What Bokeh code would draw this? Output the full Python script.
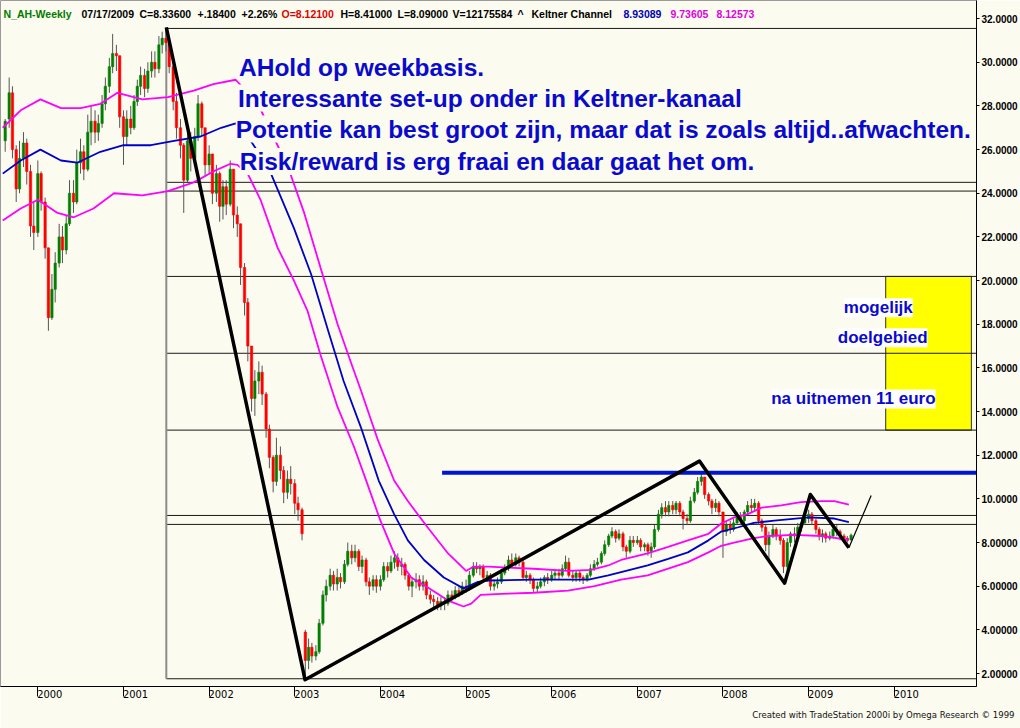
import numpy as np
import pandas as pd
from bokeh.plotting import figure
from bokeh.models import (ColumnDataSource, FixedTicker, PrintfTickFormatter,
                          Label, Range1d, Title)
from bokeh.embed import file_html
from bokeh.resources import INLINE

# ---------------- data (semi-monthly OHLC) ----------------
start_date = "1999-08-15"

opens = [
    26.4,
    27.4, 28.6, 26.0, 24.2, 25.6, 26.3, 25.0, 22.5,
    22.2, 24.9, 23.6, 21.5, 18.3, 19.6, 20.8, 22.0, 21.4, 22.6, 24.0, 23.6,
    25.4, 25.9, 25.1, 26.8, 27.3, 26.8, 27.2, 28.1, 28.9, 29.8, 30.4, 30.3,
    27.5, 26.6, 27.4, 27.0, 28.2, 28.9, 29.4, 28.8, 29.6, 30.0, 29.7, 30.8,
    31.1, 30.9, 29.8, 28.2, 27.0, 26.2, 24.6, 26.4, 25.6, 26.6, 28.1, 27.0,
    25.3, 25.8, 24.0, 24.9, 23.4, 24.3, 23.5, 25.1, 23.0, 22.6, 20.6, 19.0,
    17.0, 14.6, 15.4, 15.8, 14.8, 13.2, 11.9, 10.8, 12.0, 11.3, 10.3, 10.9,
    10.7, 9.8, 9.5, 3.9, 2.6, 3.2, 2.8, 3.0, 4.3, 5.6, 6.0, 6.5,
    6.1, 6.4, 6.2, 7.0, 7.6, 7.3, 7.6, 6.9, 7.2, 6.2, 6.0, 6.3,
    6.0, 6.3, 6.9, 6.7, 7.1, 7.3, 6.9, 7.0, 6.5, 6.0, 6.2, 6.3,
    6.0, 6.2, 5.6, 5.4, 5.3, 5.1, 5.3, 5.2, 5.6, 5.5, 5.8, 5.7,
    6.0, 5.9, 6.5, 6.9, 6.8, 6.9, 6.4, 6.5, 6.0, 6.1, 6.2, 6.6,
    6.8, 7.2, 7.0, 7.3, 7.1, 6.4, 6.5, 6.3, 5.9, 6.0, 6.2, 6.4,
    6.3, 6.5, 6.6, 6.5, 6.8, 7.1, 6.5, 6.4, 6.6, 6.4, 6.3, 6.5,
    6.8, 7.0, 7.1, 7.5, 7.9, 8.3, 8.5, 8.2, 8.4, 7.8, 7.6, 8.1,
    8.0, 8.1, 7.8, 7.9, 7.6, 7.8, 8.6, 9.3, 9.6, 9.4, 9.7, 9.5,
    9.8, 9.4, 9.1, 9.0, 9.9, 10.3, 10.8, 11.0, 10.2, 9.9, 9.6, 9.8,
    9.4, 8.5, 8.8, 8.6, 8.9, 9.2, 9.0, 9.4, 9.7, 9.6, 9.8, 9.0,
    8.7, 7.9, 8.3, 8.6, 8.3, 8.1, 6.9, 8.0, 8.4, 8.3, 8.7, 8.9,
    9.1, 9.3, 9.0, 8.6, 8.3, 8.4, 8.2, 8.3, 8.6, 8.5, 8.3, 8.2,
    8.121]

highs = [
    27.4,
    29.3, 28.9, 26.2, 26.4, 26.8, 26.5, 25.3, 23.6,
    25.5, 25.0, 23.8, 21.5, 20.3, 21.3, 22.6, 22.5, 23.0, 24.6, 24.6, 26.0,
    26.5, 26.2, 27.6, 28.0, 27.8, 27.6, 28.5, 29.3, 30.2, 31.3, 30.8, 30.3,
    27.8, 27.8, 28.0, 28.5, 29.2, 29.8, 29.7, 30.0, 30.5, 30.5, 31.2, 31.4,
    31.6, 31.0, 29.9, 28.6, 27.4, 26.3, 27.0, 26.8, 27.0, 28.5, 28.2, 27.0,
    26.2, 25.8, 25.3, 25.0, 24.6, 24.6, 25.5, 25.1, 23.4, 22.6, 20.8, 19.2,
    17.0, 15.9, 16.3, 16.1, 14.9, 13.4, 12.0, 12.8, 12.4, 11.5, 11.3, 11.5,
    10.9, 10.1, 9.6, 4.0, 3.6, 3.4, 3.3, 4.5, 5.8, 6.3, 6.8, 6.7,
    6.8, 6.6, 7.2, 8.0, 7.9, 7.9, 7.7, 7.4, 7.3, 6.4, 6.5, 6.5,
    6.5, 7.1, 7.1, 7.4, 7.6, 7.5, 7.3, 7.1, 6.6, 6.4, 6.6, 6.5,
    6.5, 6.3, 5.8, 5.6, 5.5, 5.5, 5.5, 5.8, 5.8, 6.0, 6.0, 6.2,
    6.3, 6.7, 7.1, 7.1, 7.0, 7.0, 6.7, 6.6, 6.3, 6.4, 6.8, 7.0,
    7.4, 7.5, 7.5, 7.4, 7.2, 6.7, 6.6, 6.4, 6.2, 6.4, 6.5, 6.6,
    6.7, 6.8, 6.8, 7.0, 7.4, 7.3, 6.7, 6.7, 6.7, 6.5, 6.6, 7.0,
    7.2, 7.3, 7.6, 8.1, 8.4, 8.7, 8.6, 8.6, 8.5, 7.9, 8.3, 8.3,
    8.3, 8.2, 8.0, 8.0, 8.0, 8.8, 9.5, 9.8, 9.9, 9.9, 9.9, 9.9,
    9.9, 9.5, 9.3, 10.1, 10.5, 11.0, 11.2, 11.0, 10.3, 10.0, 10.0, 9.9,
    9.4, 9.0, 9.0, 9.1, 9.4, 9.4, 9.5, 9.9, 10.0, 10.0, 9.9, 9.1,
    8.8, 8.5, 8.8, 8.7, 8.6, 8.2, 8.2, 8.5, 8.7, 8.9, 9.1, 9.3,
    9.5, 9.4, 9.1, 8.7, 8.6, 8.5, 8.5, 8.8, 8.8, 8.6, 8.4, 8.3,
    8.41]

lows = [
    25.9,
    27.0, 25.6, 23.6, 24.0, 25.2, 24.4, 22.0, 21.4,
    22.0, 23.2, 21.0, 17.7, 18.2, 19.0, 20.6, 20.8, 21.2, 22.5, 23.1, 23.5,
    24.9, 24.6, 25.0, 26.2, 26.3, 26.4, 27.0, 27.8, 28.6, 29.5, 29.6, 27.0,
    25.3, 26.2, 26.7, 26.9, 28.0, 28.5, 28.4, 28.6, 29.3, 29.3, 29.5, 30.4,
    30.5, 29.5, 27.8, 26.5, 25.6, 23.1, 24.5, 25.0, 25.3, 26.4, 26.6, 24.8,
    24.9, 23.5, 23.6, 22.7, 22.8, 23.0, 23.4, 22.4, 22.0, 19.8, 18.4, 16.3,
    14.0, 13.8, 14.8, 14.3, 12.8, 11.4, 10.3, 10.6, 10.9, 9.8, 10.0, 10.2,
    9.3, 9.0, 8.1, 1.8, 2.2, 2.5, 2.6, 2.9, 4.2, 5.3, 5.8, 5.8,
    5.8, 5.9, 6.1, 6.9, 7.0, 7.1, 6.7, 6.6, 6.0, 5.6, 5.8, 5.7,
    5.8, 6.2, 6.4, 6.6, 6.8, 6.7, 6.5, 6.3, 5.8, 5.5, 5.9, 5.8,
    5.8, 5.4, 5.2, 5.0, 4.9, 4.9, 4.9, 5.1, 5.3, 5.4, 5.5, 5.6,
    5.7, 5.8, 6.4, 6.6, 6.5, 6.2, 6.2, 5.8, 5.8, 5.9, 6.1, 6.5,
    6.7, 6.9, 6.9, 6.9, 6.3, 6.2, 6.1, 5.7, 5.7, 5.9, 6.0, 6.1,
    6.2, 6.3, 6.3, 6.4, 6.7, 6.4, 6.2, 6.2, 6.2, 6.1, 6.2, 6.4,
    6.7, 6.9, 7.0, 7.4, 7.8, 8.2, 8.0, 8.1, 7.6, 7.3, 7.5, 7.8,
    7.9, 7.6, 7.6, 7.4, 7.3, 7.7, 8.5, 9.1, 9.2, 9.2, 9.3, 9.3,
    9.2, 8.6, 8.8, 8.9, 9.8, 10.2, 10.6, 10.0, 9.7, 9.3, 9.4, 9.2,
    7.3, 8.3, 8.4, 8.5, 8.8, 8.8, 8.9, 9.3, 9.4, 9.4, 8.8, 8.5,
    7.6, 7.1, 8.2, 8.1, 7.9, 6.6, 6.7, 7.8, 8.0, 8.1, 8.5, 8.8,
    8.9, 8.8, 8.4, 8.1, 8.0, 8.0, 8.1, 8.2, 8.3, 8.1, 8.0, 8.0,
    8.09]

closes = [
    27.3,
    28.6, 26.0, 24.2, 25.6, 26.3, 25.0, 22.5, 22.2,
    24.9, 23.6, 21.5, 18.3, 19.6, 20.8, 22.0, 21.4, 22.6, 24.0, 23.6, 25.4,
    25.9, 25.1, 26.8, 27.3, 26.8, 27.2, 28.1, 28.9, 29.8, 30.4, 30.3, 27.5,
    26.6, 27.4, 27.0, 28.2, 28.9, 29.4, 28.8, 29.6, 30.0, 29.7, 30.8, 31.1,
    30.9, 29.8, 28.2, 27.0, 26.2, 24.6, 26.4, 25.6, 26.6, 28.1, 27.0, 25.3,
    25.8, 24.0, 24.9, 23.4, 24.3, 23.5, 25.1, 23.0, 22.6, 20.6, 19.0, 17.0,
    14.6, 15.4, 15.8, 14.8, 13.2, 11.9, 10.8, 12.0, 11.3, 10.3, 10.9, 10.7,
    9.8, 9.5, 8.4, 2.6, 3.2, 2.8, 3.0, 4.3, 5.6, 6.0, 6.5, 6.1,
    6.4, 6.2, 7.0, 7.6, 7.3, 7.6, 6.9, 7.2, 6.2, 6.0, 6.3, 6.0,
    6.3, 6.9, 6.7, 7.1, 7.3, 6.9, 7.0, 6.5, 6.0, 6.2, 6.3, 6.0,
    6.2, 5.6, 5.4, 5.3, 5.1, 5.3, 5.2, 5.6, 5.5, 5.8, 5.7, 6.0,
    5.9, 6.5, 6.9, 6.8, 6.9, 6.4, 6.5, 6.0, 6.1, 6.2, 6.6, 6.8,
    7.2, 7.0, 7.3, 7.1, 6.4, 6.5, 6.3, 5.9, 6.0, 6.2, 6.4, 6.3,
    6.5, 6.6, 6.5, 6.8, 7.1, 6.5, 6.4, 6.6, 6.4, 6.3, 6.5, 6.8,
    7.0, 7.1, 7.5, 7.9, 8.3, 8.5, 8.2, 8.4, 7.8, 7.6, 8.1, 8.0,
    8.1, 7.8, 7.9, 7.6, 7.8, 8.6, 9.3, 9.6, 9.4, 9.7, 9.5, 9.8,
    9.4, 9.1, 9.0, 9.9, 10.3, 10.8, 11.0, 10.2, 9.9, 9.6, 9.8, 9.4,
    8.5, 8.8, 8.6, 8.9, 9.2, 9.0, 9.4, 9.7, 9.6, 9.8, 9.0, 8.7,
    7.9, 8.3, 8.6, 8.3, 8.1, 6.9, 8.0, 8.4, 8.3, 8.7, 8.9, 9.1,
    9.3, 9.0, 8.6, 8.3, 8.4, 8.2, 8.3, 8.6, 8.5, 8.3, 8.2, 8.1,
    8.336]

# Keltner channel (decimal year, value)
kc_upper_t = [1999.59, 1999.80, 2000.03, 2000.27, 2000.50, 2000.73, 2000.93, 2001.22,
              2001.52, 2001.82, 2002.05, 2002.31, 2002.57, 2002.75, 2002.92, 2003.11,
              2003.30, 2003.50, 2003.66, 2003.77, 2003.97, 2004.16, 2004.32, 2004.55,
              2004.79, 2005.00, 2005.09, 2005.26, 2005.49, 2005.79, 2006.19, 2006.46,
              2006.66, 2006.81, 2007.12, 2007.36, 2007.59, 2007.83, 2007.98, 2008.13,
              2008.29, 2008.45, 2008.68, 2008.91, 2009.15, 2009.30, 2009.47]
kc_upper = [27.0, 27.8, 28.3, 27.9, 27.9, 28.1, 28.6, 28.3,
            28.4, 28.7, 29.0, 29.2, 28.1, 26.6, 25.2, 23.1,
            20.6, 18.0, 16.2, 15.0, 12.7, 10.84, 9.9, 8.7,
            7.5, 6.7, 6.9, 6.9, 6.85, 6.8, 6.7, 6.75,
            6.95, 7.2, 7.5, 7.8, 8.1, 8.4, 8.87, 9.15,
            9.3, 9.6, 9.7, 9.85, 9.9, 9.9, 9.736]

kc_mid_t = [1999.59, 1999.80, 2000.03, 2000.27, 2000.46, 2000.73, 2001.00, 2001.32,
            2001.59, 2001.90, 2002.14, 2002.31, 2002.46, 2002.69, 2002.99, 2003.19,
            2003.39, 2003.57, 2003.77, 2003.89, 2003.98, 2004.16, 2004.32, 2004.51,
            2004.74, 2004.97, 2005.14, 2005.26, 2005.79, 2006.43, 2006.66, 2006.81,
            2007.12, 2007.36, 2007.59, 2007.83, 2007.98, 2008.18, 2008.36, 2008.60,
            2009.00, 2009.30, 2009.47]
kc_mid = [24.9, 25.5, 26.0, 25.5, 25.4, 25.9, 26.2, 26.2,
          26.4, 26.6, 27.0, 27.2, 26.55, 25.2, 22.4, 20.3,
          17.7, 15.4, 13.3, 11.9, 10.84, 9.3, 8.1, 7.2,
          6.4, 5.9, 6.2, 6.26, 6.3, 6.3, 6.5, 6.65,
          6.95, 7.25, 7.55, 8.1, 8.5, 8.7, 8.9, 9.0,
          9.15, 9.1, 8.931]

kc_lower_t = [1999.59, 1999.80, 2000.00, 2000.23, 2000.42, 2000.65, 2000.89, 2001.22,
              2001.52, 2001.82, 2002.05, 2002.25, 2002.33, 2002.45, 2002.60, 2002.80,
              2002.99, 2003.15, 2003.30, 2003.50, 2003.69, 2003.81, 2004.00, 2004.16,
              2004.36, 2004.55, 2004.79, 2004.97, 2005.06, 2005.17, 2005.41, 2005.79,
              2006.19, 2006.50, 2006.81, 2007.12, 2007.36, 2007.59, 2007.83, 2007.98,
              2008.13, 2008.36, 2008.53, 2008.83, 2009.15, 2009.47]
kc_lower = [22.75, 23.3, 23.7, 23.1, 22.9, 23.3, 24.0, 23.9,
            24.1, 24.5, 25.0, 25.35, 25.3, 24.9, 23.7, 21.5,
            20.0, 18.6, 16.6, 14.2, 12.4, 11.1, 9.0, 7.5,
            6.4, 5.95, 5.34, 5.07, 5.2, 5.6, 5.65, 5.7,
            5.8, 6.0, 6.3, 6.5, 6.8, 7.1, 7.55, 7.85,
            8.0, 8.2, 8.3, 8.35, 8.3, 8.126]

# Hand-drawn analysis
zigzag_t = [2001.50, 2003.12, 2007.725, 2008.72, 2009.02, 2009.47]
zigzag_p = [31.6, 1.71, 11.73, 6.14, 10.2, 7.76]
projection_t = [2009.47, 2009.73]
projection_p = [7.76, 10.15]
fib_start_t = 2001.50
fib_levels = [31.55, 24.5, 24.1, 20.19, 16.67, 13.15, 9.24, 8.83, 1.76]
resistance_start_t = 2004.72
resistance_level = 11.2
target_t = [2009.9, 2010.9]
target_p = [13.15, 20.19]

year_ticks = [2000, 2001, 2002, 2003, 2004, 2005, 2006, 2007, 2008, 2009, 2010]
price_ticks = [2, 4, 6, 8, 10, 12, 14, 16, 18, 20, 22, 24, 26, 28, 30, 32]
price_labels = ["2.00000", "4.00000", "6.00000", "8.00000", "10.0000", "12.0000",
                "14.0000", "16.0000", "18.0000", "20.0000", "22.0000", "24.0000",
                "26.0000", "28.0000", "30.0000", "32.0000"]

header = [("N_AH-Weekly", "#007A00"), ("07/17/2009", "black"), ("C=8.33600", "black"),
          ("+.18400", "black"), ("+2.26%", "black"), ("O=8.12100", "#E00000"),
          ("H=8.41000", "black"), ("L=8.09000", "black"), ("V=12175584", "black"),
          ("^", "black"), ("Keltner Channel", "black"), ("8.93089", "#0000B4"),
          ("9.73605", "#E000E0"), ("8.12573", "#E000E0")]
header_x = [3, 81, 139, 197, 241, 281, 340, 397, 452, 517, 531, 623, 670, 716]

notes = ["AHold op weekbasis.",
         "Interessante set-up onder in Keltner-kanaal",
         "Potentie kan best groot zijn, maar dat is zoals altijd..afwachten.",
         "Risk/reward is erg fraai en daar gaat het om."]
notes_t = [2002.349, 2002.337, 2002.31, 2002.357]
notes_p = [29.77, 28.36, 26.94, 25.46]

box_notes = ["mogelijk", "doelgebied", "na uitnemen 11 euro"]
box_notes_t = [2009.411, 2009.341, 2008.563]
box_notes_p = [18.75, 17.38, 14.58]

credit = "Created with TradeStation 2000i by Omega Research \u00a9 1999"

# ---------------- build ----------------
BG = "#FBFBEF"
NARROW = "DejaVu Sans Condensed, Liberation Sans, sans-serif"
X0, X1 = 1999.564, 2010.96

dates = pd.date_range(start_date, periods=len(closes), freq="SMS")
t = np.asarray(dates.year + (dates.dayofyear - 1) / 365.25, dtype=float)

o = np.array(opens); h = np.array(highs); l = np.array(lows); c = np.array(closes)
up = c >= o
src = ColumnDataSource(dict(
    t=t, high=h, low=l,
    top=np.maximum(o, c), bottom=np.minimum(o, c),
    color=np.where(up, "#008000", "#FF0000"),
))

p = figure(width=1020, height=728, x_range=Range1d(X0, X1), y_range=Range1d(1.405, 32.83),
           output_backend="svg", toolbar_location=None, y_axis_location="right",
           title=None, min_border_left=0, min_border_top=0, min_border_right=0,
           min_border_bottom=42)
p.background_fill_color = BG
p.border_fill_color = BG
p.outline_line_color = "#9A9A9A"
p.xgrid.visible = False
p.ygrid.visible = False

# target box
p.quad(left=[target_t[0]], right=[target_t[1]], bottom=[target_p[0]], top=[target_p[1]],
       fill_color="#FFFF00", line_color="#303030", line_width=1)

# fibonacci-like horizontal levels and vertical line at the top
n = len(fib_levels)
p.segment(x0=[fib_start_t] * n, y0=fib_levels, x1=[X1] * n, y1=fib_levels,
          line_color="#1A1A1A", line_width=1)
p.segment(x0=[fib_start_t], y0=[max(fib_levels)], x1=[fib_start_t], y1=[min(fib_levels)],
          line_color="#8C8C8C", line_width=2)

# candles
p.segment(x0="t", y0="low", x1="t", y1="high", source=src, line_color="#555555", line_width=1)
p.vbar(x="t", width=0.027, top="top", bottom="bottom", source=src,
       fill_color="color", line_color="color", line_width=0.6)

# Keltner channel
p.line(kc_upper_t, kc_upper, line_color="#FF00FF", line_width=1.8)
p.line(kc_mid_t, kc_mid, line_color="#0000C8", line_width=1.8)
p.line(kc_lower_t, kc_lower, line_color="#FF00FF", line_width=1.8)

# resistance line
p.segment(x0=[resistance_start_t], y0=[resistance_level], x1=[X1], y1=[resistance_level],
          line_color="#0014D2", line_width=4)

# zigzag
p.line(zigzag_t, zigzag_p, line_color="black", line_width=3.5, line_join="round")
p.line(projection_t, projection_p, line_color="black", line_width=1.2)

# axes
xa = p.xaxis[0]
xa.ticker = FixedTicker(ticks=[y + 0.14 for y in year_ticks], minor_ticks=year_ticks)
xa.formatter = PrintfTickFormatter(format="%d")
xa.major_tick_out = 0
xa.major_tick_in = 0
xa.minor_tick_out = 10
xa.minor_tick_in = 0
xa.minor_tick_line_color = "black"
xa.major_label_standoff = -7
xa.major_label_text_font = NARROW
xa.major_label_text_font_size = "11px"
xa.major_label_text_color = "black"
xa.axis_line_color = "black"

ya = p.yaxis[0]
ya.ticker = FixedTicker(ticks=price_ticks)
ya.major_label_overrides = {v: s for v, s in zip(price_ticks, price_labels)}
ya.major_tick_out = 3
ya.major_tick_in = 0
ya.minor_tick_line_color = None
ya.major_label_standoff = 2
ya.major_label_text_font = "Liberation Sans"
ya.major_label_text_font_style = "bold"
ya.major_label_text_font_size = "10px"
ya.major_label_text_color = "black"
ya.axis_line_color = "black"

# credit line under the time axis
p.add_layout(Title(text=credit, align="right", offset=-38, standoff=12,
                   text_font=NARROW, text_font_size="9.5px",
                   text_font_style="normal", text_color="#111111"), "below")

# header line
for (txt, col), sx in zip(header, header_x):
    p.add_layout(Label(x=sx, y=32.22, x_units="screen", y_units="data", text=txt,
                       text_font="Liberation Sans", text_font_style="bold",
                       text_font_size="10.5px", text_color=col,
                       text_baseline="alphabetic"))

# commentary
for txt, tx, py in zip(notes, notes_t, notes_p):
    p.add_layout(Label(x=tx, y=py, text=txt, text_font="Liberation Sans",
                       text_font_style="bold", text_font_size="24.5px",
                       text_color="#0A0ACD", text_baseline="alphabetic",
                       background_fill_color=BG))

for txt, tx, py in zip(box_notes, box_notes_t, box_notes_p):
    p.add_layout(Label(x=tx, y=py, text=txt, text_font="Liberation Sans",
                       text_font_style="bold", text_font_size="17px",
                       text_color="#0A0ACD", text_baseline="alphabetic",
                       background_fill_color="white"))

open("out.html", "w").write(file_html(p, INLINE))
